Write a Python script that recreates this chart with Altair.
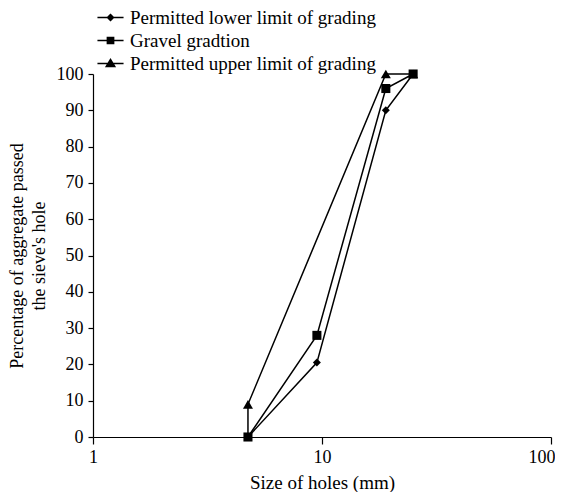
import altair as alt
import pandas as pd

series_names = ["Permitted lower limit of grading", "Gravel gradtion", "Permitted upper limit of grading"]
lower_x = [4.75, 9.5, 19, 25]
lower_y = [0, 20.5, 90, 100]
gravel_x = [4.75, 9.5, 19, 25]
gravel_y = [0, 28, 96, 100]
upper_x = [4.75, 4.75, 19, 25]
upper_y = [0, 9, 100, 100]
upper_marker = [False, True, True, True]
x_ticks = [1, 10, 100]
y_ticks = list(range(0, 101, 10))

rows = []
for name, xs, ys, mk in [
    (series_names[0], lower_x, lower_y, [True] * 4),
    (series_names[1], gravel_x, gravel_y, [True] * 4),
    (series_names[2], upper_x, upper_y, upper_marker),
]:
    for i, (xv, yv, m) in enumerate(zip(xs, ys, mk)):
        rows.append({"series": name, "size": xv, "pct": yv, "idx": i, "marker": m})
df = pd.DataFrame(rows)

FONT = "Liberation Serif"

x_enc = alt.X("size:Q", scale=alt.Scale(type="log", domain=[1, 100]),
              axis=alt.Axis(values=x_ticks, format="d", title="Size of holes (mm)",
                            grid=False, tickCount=3, titleFontSize=19, labelPadding=4,
                            titlePadding=7, tickSize=7,
                            labelAlign={"condition": {"test": "datum.value >= 100", "value": "right"},
                                        "value": "center"},
                            labelOffset={"condition": {"test": "datum.value >= 100", "value": 4},
                                         "value": 0}))
y_enc = alt.Y("pct:Q", scale=alt.Scale(domain=[0, 100], nice=False),
              axis=alt.Axis(values=y_ticks, title=["Percentage of aggregate passed", "the sieve's hole"],
                            grid=False, titlePadding=8, titleLineHeight=22, labelPadding=5,
                            tickSize=5))

lines = alt.Chart(df).mark_line(color="black", strokeWidth=1.5).encode(
    x=x_enc, y=y_enc, detail="series:N", order="idx:Q"
)

points = alt.Chart(df).transform_filter("datum.marker").mark_point(
    filled=True, color="black", opacity=1
).encode(
    x=x_enc, y=y_enc,
    shape=alt.Shape("series:N", scale=alt.Scale(domain=series_names,
                                                range=["diamond", "square", "triangle-up"]),
                    legend=None),
    size=alt.Size("series:N", scale=alt.Scale(domain=series_names, range=[64, 100, 90]), legend=None),
)

legend_paths = [
    "M-1.45,-0.085H1.45V0.085H-1.45ZM-0.45,0L0,-0.45L0.45,0L0,0.45Z",
    "M-1.45,-0.085H1.45V0.085H-1.45ZM-0.43,-0.43H0.43V0.43H-0.43Z",
    "M-1.45,-0.085H1.45V0.085H-1.45ZM-0.62,0.42L0,-0.62L0.62,0.42Z",
]

legend_layer = alt.Chart(df).transform_filter("false").mark_point(
    filled=True, color="black", opacity=1
).encode(
    x=x_enc, y=y_enc,
    shape=alt.Shape("series:N", scale=alt.Scale(domain=series_names, range=legend_paths),
                    legend=alt.Legend(title=None, orient="none", legendX=8, legendY=-66,
                                      symbolSize=324, symbolStrokeWidth=0,
                                      symbolFillColor="black", symbolOpacity=1,
                                      labelFont=FONT, labelFontSize=19, labelColor="black",
                                      labelLimit=0, rowPadding=3, labelOffset=10,
                                      padding=0)),
)

chart = alt.layer(lines, points, legend_layer).resolve_scale(shape="independent", size="independent").properties(
    width=458, height=363, padding={"left": 0, "top": 0, "right": 0, "bottom": 0}
).configure_view(stroke=None).configure_axis(
    labelFont=FONT, titleFont=FONT, labelFontSize=18, titleFontSize=18,
    labelColor="black", titleColor="black", domainColor="black", tickColor="black",
    titleFontWeight="normal", domainWidth=1.2, tickWidth=1.2
)

chart.save("out.html", embed_options={"renderer": "svg", "actions": False})
